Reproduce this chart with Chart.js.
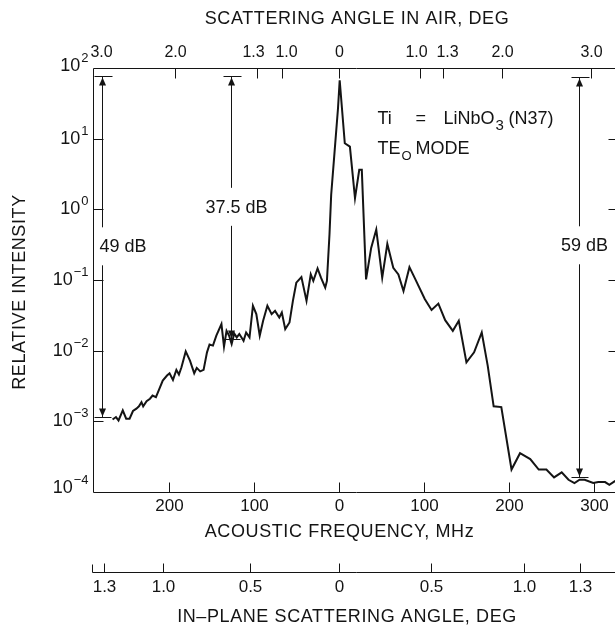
<!DOCTYPE html>
<html>
<head>
<meta charset="utf-8">
<title>Relative intensity vs acoustic frequency</title>
<script src="https://cdn.jsdelivr.net/npm/chart.js@4.4.1/dist/chart.umd.min.js"></script>
<style>
  html, body { margin: 0; padding: 0; background: #fff; overflow: hidden; }
  #wrap { width: 620px; height: 630px; }
</style>
</head>
<body>
<div id="wrap"><canvas id="chart"></canvas></div>
<script>
const freqMHz = [
  -266, -262, -259, -254, -250, -246, -242, -238, -235, -232,
  -230, -226, -222, -219, -215, -211, -207, -202, -199, -195,
  -191, -188, -185, -180, -175, -170, -167, -163, -159, -155,
  -152, -148, -144, -138, -135, -132, -129, -126, -123, -120,
  -117, -112, -109, -105, -101, -97, -93, -89, -84, -79,
  -75, -70, -67, -63, -58, -54, -50, -44, -38, -33,
  -30, -25, -21, -16, -14, -11, -9, -5, -1, 1,
  7, 13, 19, 24, 27, 32, 38, 44, 51, 57,
  64, 70, 76, 83, 90, 101, 109, 117, 125, 134,
  141, 150, 159, 168, 175, 182, 191, 203, 213, 225,
  235, 244, 253, 262, 270, 277, 283, 289, 299, 305,
  313, 318, 325
];
const intensity = [
  1.06e-3, 1.15e-3, 1.03e-3, 1.43e-3, 1.09e-3, 1.09e-3, 1.40e-3, 1.51e-3, 1.63e-3, 1.87e-3,
  1.63e-3, 1.93e-3, 2.09e-3, 2.32e-3, 2.20e-3, 2.89e-3, 3.78e-3, 4.45e-3, 4.79e-3, 3.86e-3,
  5.35e-3, 4.59e-3, 5.82e-3, 9.77e-3, 7.22e-3, 4.79e-3, 5.70e-3, 5.10e-3, 5.35e-3, 9.46e-3,
  1.22e-2, 1.18e-2, 1.63e-2, 2.38e-2, 1.14e-2, 1.91e-2, 1.63e-2, 1.24e-2, 1.75e-2, 1.54e-2,
  1.72e-2, 1.38e-2, 1.81e-2, 1.54e-2, 4.31e-2, 3.29e-2, 1.63e-2, 2.65e-2, 4.31e-2, 3.29e-2,
  3.66e-2, 2.94e-2, 3.46e-2, 2.02e-2, 2.51e-2, 5.06e-2, 9.16e-2, 0.110, 5.06e-2, 0.120,
  9.7e-2, 0.146, 0.108, 7.8e-2, 9.7e-2, 0.44, 1.61, 6.56, 26.7, 67,
  8.6, 7.7, 1.44, 3.62, 3.62, 0.102, 0.285, 0.518, 0.108, 0.324,
  0.149, 0.120, 7.0e-2, 0.152, 0.102, 5.4e-2, 3.77e-2, 4.63e-2, 2.70e-2, 1.91e-2,
  2.65e-2, 6.84e-3, 9.46e-3, 1.81e-2, 6.15e-3, 1.63e-3, 1.59e-3, 2.08e-4, 3.54e-4, 2.92e-4,
  2.08e-4, 2.08e-4, 1.61e-4, 1.90e-4, 1.49e-4, 1.34e-4, 1.49e-4, 1.49e-4, 1.34e-4, 1.38e-4,
  1.38e-4, 1.26e-4, 1.44e-4
];

// bottom axis: acoustic frequency
const freqTicks = [-200, -100, 0, 100, 200, 300];
const freqTickLabels = ['200', '100', '0', '100', '200', '300'];

// left axis decades
const decadeValues = [1e2, 1e1, 1e0, 1e-1, 1e-2, 1e-3, 1e-4];
const decadeExponents = ['2', '1', '0', '\u22121', '\u22122', '\u22123', '\u22124'];

// top axis: scattering angle in air (placed at the matching frequency)
const airAngleFreq = [-280, -193, -96, -67, 0, 95, 123, 192, 297];
const airAngleLabels = ['3.0', '2.0', '1.3', '1.0', '0', '1.0', '1.3', '2.0', '3.0'];

// lower axis: in-plane scattering angle
const inPlaneFreq = [-276, -207, -105, 0, 108, 218, 283];
const inPlaneLabels = ['1.3', '1.0', '0.5', '0', '0.5', '1.0', '1.3'];

// dB range markers
const dbFreq = [-279, -127, 282];
const dbTop = [76, 76, 74];
const dbBottom = [1.14e-3, 1.48e-2, 1.64e-4];
const dbLabelAt = [0.29, 1.05, 0.30];
const dbLabels = ['49 dB', '37.5 dB', '59 dB'];

const ink = '#141414';
const fam = '"Liberation Sans", Arial, Helvetica, sans-serif';

const axisDecor = {
  id: 'axisDecor',
  afterDraw(chart) {
    const { ctx, chartArea: a } = chart;
    const x = chart.scales.x, y = chart.scales.y;
    const line = (x1, y1, x2, y2) => { ctx.beginPath(); ctx.moveTo(x1, y1); ctx.lineTo(x2, y2); ctx.stroke(); };
    const px = v => Math.round(x.getPixelForValue(v)) + 0.5;
    const py = v => Math.round(y.getPixelForValue(v)) + 0.5;
    const L = Math.round(a.left) + 0.5, R = Math.round(a.right) - 0.5;
    const T = Math.round(a.top) + 0.5, B = Math.round(a.bottom) + 0.5;

    ctx.save();
    ctx.strokeStyle = ink;
    ctx.fillStyle = ink;
    ctx.lineWidth = 1;

    // frame
    line(L, T, R + 3, T); line(L, T, L, B); line(L, B, R + 3, B); line(R, T, R, B);

    // decade ticks + 10^n labels
    decadeValues.forEach((v, i) => {
      const yy = py(v);
      if (i > 0 && i < decadeValues.length - 1) {
        line(L, yy, L + 10, yy);
        line(R - 8, yy, R, yy);
      }
      const ly = i === 0 ? yy - 2 : (i === decadeValues.length - 1 ? yy - 4 : yy);
      ctx.textBaseline = 'middle';
      ctx.textAlign = 'right';
      ctx.font = '13px ' + fam;
      const ew = ctx.measureText(decadeExponents[i]).width;
      ctx.fillText(decadeExponents[i], L - 5, ly - 8);
      ctx.font = '18px ' + fam;
      ctx.fillText('10', L - 6 - ew, ly);
    });

    // bottom frequency ticks
    ctx.font = '17px ' + fam;
    ctx.textAlign = 'center';
    freqTicks.forEach((f, i) => {
      const xx = px(f);
      line(xx, B, xx, B - 10);
      ctx.fillText(freqTickLabels[i], xx, B + 14);
    });

    // top angle ticks; labels of close neighbours pushed apart a little
    ctx.font = '16px ' + fam;
    const topX = airAngleFreq.map(px);
    airAngleFreq.forEach((f, i) => {
      const xx = topX[i];
      if (i > 0) line(xx, T, xx, T + 10);
      let lx = xx;
      if (i > 0 && xx - topX[i - 1] < 32) lx += 4;
      if (i < topX.length - 1 && topX[i + 1] - xx < 32) lx -= 4;
      ctx.fillText(airAngleLabels[i], lx, T - 16);
    });

    // in-plane angle axis below
    ctx.font = '17px ' + fam;
    const yA = B + 80;
    line(L - 1, yA, a.right + 3, yA);
    line(L - 1, yA, L - 1, yA - 8);
    inPlaneFreq.forEach((f, i) => {
      const xx = px(f);
      line(xx, yA, xx, yA - 9);
      ctx.fillText(inPlaneLabels[i], xx, yA + 15);
    });

    // axis titles
    ctx.font = '18px ' + fam;
    ctx.letterSpacing = '0.6px';
    ctx.fillText('SCATTERING ANGLE IN AIR, DEG', (a.left + a.right) / 2 + 2, 19);
    ctx.fillText('ACOUSTIC FREQUENCY, MHz', px(0), B + 40);
    ctx.fillText('IN\u2013PLANE SCATTERING ANGLE, DEG', (a.left + a.right) / 2 - 8, yA + 45);
    ctx.save();
    ctx.translate(20, 292);
    ctx.rotate(-Math.PI / 2);
    ctx.fillText('RELATIVE INTENSITY', 0, 0);
    ctx.restore();
    ctx.letterSpacing = '0px';

    // dB range markers
    dbFreq.forEach((f, i) => {
      const xx = px(f);
      const yt = py(dbTop[i]), yb = py(dbBottom[i]), ym = y.getPixelForValue(dbLabelAt[i]);
      line(xx - 8, yt, xx + 10, yt);
      line(xx - 8, yb, xx + 9, yb);
      line(xx, yt, xx, ym - 20);
      line(xx, ym + 18, xx, yb);
      ctx.beginPath();
      ctx.moveTo(xx, yt + 1); ctx.lineTo(xx - 3.5, yt + 9); ctx.lineTo(xx + 3.5, yt + 9); ctx.closePath(); ctx.fill();
      ctx.beginPath();
      ctx.moveTo(xx, yb - 1); ctx.lineTo(xx - 3.5, yb - 9); ctx.lineTo(xx + 3.5, yb - 9); ctx.closePath(); ctx.fill();
      ctx.font = '18px ' + fam;
      ctx.textBaseline = 'middle';
      if (xx - a.left < 40) {
        ctx.textAlign = 'left';
        ctx.fillText(dbLabels[i], xx - 3, ym);
      } else {
        ctx.textAlign = 'center';
        ctx.fillText(dbLabels[i], xx + 5, ym);
      }
    });

    // sample note
    const nx = px(45);
    ctx.textAlign = 'left';
    ctx.textBaseline = 'alphabetic';
    ctx.font = '18px ' + fam;
    ctx.fillText('Ti', nx, T + 55);
    ctx.fillText('=', nx + 38, T + 55);
    ctx.fillText('LiNbO', nx + 66, T + 55);
    let w = ctx.measureText('LiNbO').width;
    ctx.font = '15px ' + fam;
    ctx.fillText('3', nx + 67 + w, T + 61);
    ctx.font = '18px ' + fam;
    ctx.fillText('(N37)', nx + 66 + w + 14, T + 55);
    ctx.fillText('TE', nx, T + 85);
    w = ctx.measureText('TE').width;
    ctx.font = '13px ' + fam;
    ctx.fillText('O', nx + w + 1, T + 91);
    ctx.font = '18px ' + fam;
    ctx.fillText('MODE', nx + w + 15, T + 85);

    ctx.restore();
  }
};

new Chart(document.getElementById('chart'), {
  type: 'line',
  data: {
    datasets: [{
      data: freqMHz.map((f, i) => ({ x: f, y: intensity[i] })),
      borderColor: ink,
      borderWidth: 2,
      pointRadius: 0,
      tension: 0,
      fill: false
    }]
  },
  options: {
    responsive: true,
    maintainAspectRatio: false,
    animation: false,
    layout: { padding: { left: 93, top: 68, right: 3, bottom: 138 } },
    plugins: { legend: { display: false }, tooltip: { enabled: false } },
    scales: {
      x: { type: 'linear', min: -289, max: 327, display: false },
      y: { type: 'logarithmic', min: 1e-4, max: 1e2, display: false }
    }
  },
  plugins: [axisDecor]
});
</script>
</body>
</html>
